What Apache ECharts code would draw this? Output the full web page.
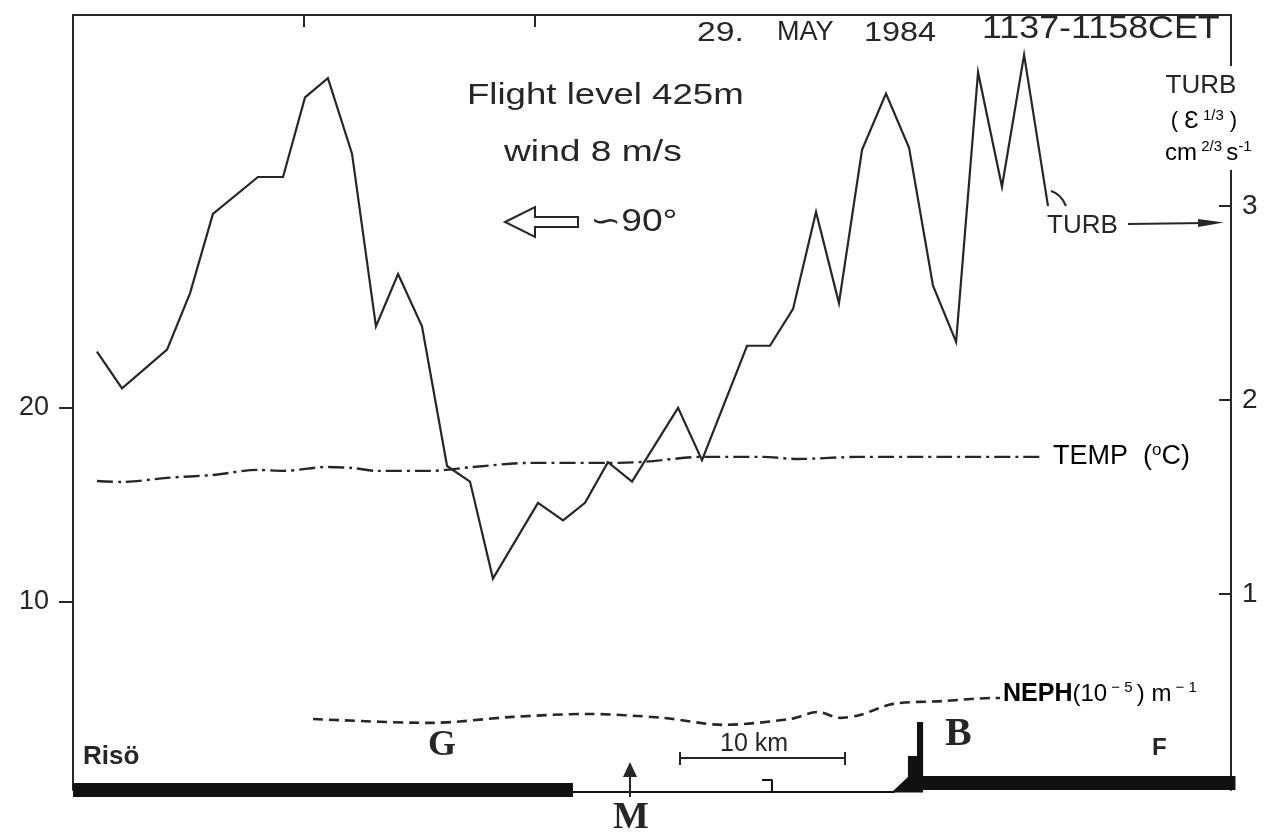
<!DOCTYPE html>
<html><head><meta charset="utf-8">
<script src="https://cdn.jsdelivr.net/npm/echarts@6/dist/echarts.min.js"></script>
<style>html,body{margin:0;padding:0;background:#fff}#c{width:1287px;height:834px}</style>
</head><body><div id="c"></div>
<script>
// ---- data (distance along track in km) ----
const turbKm = [1.45,2.97,5.70,7.09,8.48,11.21,12.73,14.06,15.45,16.91,18.36,19.70,21.15,22.67,24.06,25.45,28.18,29.70,31.03,32.42,33.88,36.67,38.12,40.85,42.24,43.64,45.03,46.42,47.82,49.27,50.67,52.12,53.52,54.85,56.30,57.64,59.09];
const turbValues = [2.25,2.06,2.26,2.55,2.96,3.15,3.15,3.56,3.66,3.27,2.38,2.65,2.38,1.66,1.58,1.08,1.47,1.38,1.47,1.68,1.58,1.96,1.69,2.28,2.28,2.47,2.97,2.50,3.29,3.58,3.30,2.59,2.30,3.69,3.10,3.78,3.00];
const tempKm = [1.45,2.97,5.70,8.48,11.21,12.73,15.45,16.91,18.42,21.64,24.24,27.70,32.55,34.55,38.18,41.82,43.88,47.70,53.15,58.79];
const tempValues = [16.22,16.17,16.38,16.53,16.79,16.74,16.94,16.89,16.74,16.74,16.94,17.15,17.15,17.20,17.46,17.46,17.35,17.46,17.46,17.46];
const nephKm = [14.55,21.64,26.67,31.15,35.76,39.39,43.45,45.15,46.48,47.70,49.70,52.70,55.76,56.18];
const nephValues = [3.98,3.78,4.09,4.24,4.04,3.68,3.98,4.34,4.04,4.19,4.76,4.90,5.06,5.06];
const leftTicks = [10, 20];
const rightTicks = [1, 2, 3];
const topTicksKm = [14, 28];
// ground profile (left-axis units)
const groundLeft = [[0,0.33],[30.3,0.33]];
const groundMid = [[30.3,0.23],[49.8,0.23]];
const groundHook = [[41.76,0.85],[42.36,0.85],[42.36,0.23]];
const groundBuilding = [[49.6,0.2],[50.6,1.0],[50.6,2.08],[51.15,2.08],[51.15,3.83],[51.52,3.83],[51.52,0.2]];
const groundRight = [[51.4,0.69],[70.45,0.69]];

const INK = '#262626';
const SANS = 'Liberation Sans, Arial, sans-serif';
const SERIF = 'Liberation Serif, DejaVu Serif, serif';
const zip = (a, b) => a.map((v, i) => [v, b[i]]);

const chart = echarts.init(document.getElementById('c'), null, {renderer: 'canvas'});

function txt(text, x, y, font, opts, sx) {
  return {type: 'text', z: 110, x: x, y: y, scaleX: sx || 1,
    style: Object.assign({text: text, x: 0, y: 0, font: font, fill: INK, textAlign: 'left', textVerticalAlign: 'middle'}, opts || {})};
}

const option = {
  animation: false,
  backgroundColor: '#fff',
  grid: {left: 73, right: 1287 - 1231, top: 15, bottom: 834 - 790},
  xAxis: {
    type: 'value', position: 'top', min: 0, max: 70.18,
    axisLine: {show: true, onZero: false, lineStyle: {color: INK, width: 2}},
    axisTick: {show: true, inside: true, length: 12, customValues: topTicksKm, lineStyle: {color: INK, width: 2}},
    axisLabel: {show: false}, splitLine: {show: false}
  },
  yAxis: [{
    type: 'value', position: 'left', min: 0.33, max: 40.18,
    axisLine: {show: true, onZero: false, lineStyle: {color: INK, width: 2}},
    axisTick: {show: true, inside: false, length: 14, customValues: leftTicks, lineStyle: {color: INK, width: 2}},
    axisLabel: {show: true, customValues: leftTicks, margin: 24, fontSize: 27, color: INK, fontFamily: SANS},
    splitLine: {show: false}
  }, {
    type: 'value', position: 'right', min: -0.01, max: 3.985,
    axisLine: {show: true, onZero: false, lineStyle: {color: INK, width: 2}},
    axisTick: {show: true, inside: true, length: 12, customValues: rightTicks, lineStyle: {color: INK, width: 2}},
    axisLabel: {show: true, customValues: rightTicks, margin: 11, fontSize: 28, color: INK, fontFamily: SANS},
    splitLine: {show: false}
  }],
  series: [
    {name: 'TURB', type: 'line', yAxisIndex: 1, data: zip(turbKm, turbValues), symbol: 'none',
     lineStyle: {color: INK, width: 2.2, join: 'miter'}, z: 5},
    {name: 'TEMP', type: 'line', yAxisIndex: 0, data: zip(tempKm, tempValues), symbol: 'none', smooth: 0.3,
     lineStyle: {color: INK, width: 2.4, type: [16, 5, 3, 5]}, z: 4},
    {name: 'NEPH', type: 'line', yAxisIndex: 0, data: zip(nephKm, nephValues), symbol: 'none', smooth: 0.3,
     lineStyle: {color: INK, width: 2.6, type: [10, 6]}, z: 4},
    {name: 'groundLeft', type: 'line', yAxisIndex: 0, data: groundLeft, symbol: 'none', clip: false,
     lineStyle: {color: '#111', width: 14, cap: 'butt'}, z: 6},
    {name: 'groundMid', type: 'line', yAxisIndex: 0, data: groundMid, symbol: 'none', clip: false,
     lineStyle: {color: '#111', width: 2}, z: 6},
    {name: 'groundHook', type: 'line', yAxisIndex: 0, data: groundHook, symbol: 'none', clip: false,
     lineStyle: {color: '#111', width: 2}, z: 6},
    {name: 'groundRight', type: 'line', yAxisIndex: 0, data: groundRight, symbol: 'none', clip: false,
     lineStyle: {color: '#111', width: 14, cap: 'butt'}, z: 6},
    {name: 'building', type: 'custom', yAxisIndex: 0, data: [groundBuilding[0]], clip: false, z: 6,
     renderItem: function (params, api) {
       return {type: 'polygon', shape: {points: groundBuilding.map(p => api.coord(p))}, style: {fill: '#111'}};
     }}
  ],
  graphic: [
    // gap in right axis for unit label
    {type: 'rect', z: 100, shape: {x: 1222, y: 66, width: 20, height: 104}, style: {fill: '#fff'}},
    txt('TURB', 1201, 86, '26px ' + SANS, {textAlign: 'center'}),
    {type: 'text', z: 110, style: {x: 1204, y: 121, textAlign: 'center', textVerticalAlign: 'middle',
      text: '{p|( }{e|Ɛ}{s| 1/3}{p| )}',
      rich: {p: {fontSize: 22, fontFamily: SANS, color: INK, lineHeight: 26},
             e: {fontSize: 24, fontFamily: SANS, color: INK, lineHeight: 26},
             s: {fontSize: 15, fontFamily: SANS, color: INK, verticalAlign: 'top', lineHeight: 16}}}},
    {type: 'text', z: 110, style: {x: 1165, y: 153, textAlign: 'left', textVerticalAlign: 'middle',
      text: '{p|cm}{s| 2/3 }{p|s}{s|-1}',
      rich: {p: {fontSize: 24, fontFamily: SANS, color: INK, lineHeight: 28},
             s: {fontSize: 15, fontFamily: SANS, color: INK, verticalAlign: 'top', lineHeight: 16}}}},
    // title stamp
    txt('29.', 697, 34, '27px ' + SANS, null, 1.25),
    txt('MAY', 777, 33, '27px ' + SANS),
    txt('1984', 864, 34, '27px ' + SANS, null, 1.2),
    txt('1137-1158CET', 982, 29, '32px ' + SANS, null, 1.12),
    // flight info
    txt('Flight level 425m', 467, 96, '30px ' + SANS, null, 1.22),
    txt('wind 8 m/s', 504, 153, '30px ' + SANS, null, 1.24),
    {type: 'polygon', z: 110, shape: {points: [[505,222],[535,207],[535,217],[578,217],[578,227],[535,227],[535,237]]},
     style: {fill: '#fff', stroke: INK, lineWidth: 2}},
    txt('∽90°', 590, 222, '31px ' + SANS, null, 1.2),
    // turb label and arrow
    {type: 'bezierCurve', z: 110, shape: {x1: 1051, y1: 191, x2: 1066, y2: 206, cpx1: 1061, cpy1: 194}, style: {stroke: INK, lineWidth: 2, fill: null}},
    txt('TURB', 1047, 226, '26px ' + SANS),
    {type: 'line', z: 110, shape: {x1: 1128, y1: 224, x2: 1205, y2: 223}, style: {stroke: INK, lineWidth: 2}},
    {type: 'polygon', z: 110, shape: {points: [[1198,219],[1224,222.5],[1198,227]]}, style: {fill: INK}},
    // series labels
    {type: 'text', z: 110, style: {x: 1053, y: 457, textAlign: 'left', textVerticalAlign: 'middle',
      text: '{a|TEMP  (}{o|o}{a|C)}',
      rich: {a: {fontSize: 27, fontFamily: SANS, color: INK, lineHeight: 30},
             o: {fontSize: 17, fontFamily: SANS, color: INK, verticalAlign: 'top', lineHeight: 18}}}},
    {type: 'text', z: 110, style: {x: 1003, y: 694, textAlign: 'left', textVerticalAlign: 'middle',
      text: '{b|NEPH}{a|(10}{s| − 5 }{a|) m}{s| − 1}',
      rich: {b: {fontSize: 25, fontWeight: 'bold', fontFamily: SANS, color: INK, lineHeight: 28},
             a: {fontSize: 24, fontFamily: SANS, color: '#3a3a3a', lineHeight: 28},
             s: {fontSize: 15, fontFamily: SANS, color: '#3a3a3a', verticalAlign: 'top', lineHeight: 16}}}},
    // place labels
    txt('Risö', 83, 757, 'bold 26px ' + SANS),
    txt('G', 428, 746, 'bold 36px ' + SERIF),
    txt('B', 945, 735, 'bold 40px ' + SERIF),
    txt('F', 1152, 748, 'bold 24px ' + SANS),
    txt('M', 613, 818, 'bold 38px ' + SERIF),
    {type: 'polygon', z: 110, shape: {points: [[630,762],[623,777],[637,777]]}, style: {fill: INK}},
    {type: 'line', z: 110, shape: {x1: 630, y1: 776, x2: 630, y2: 797}, style: {stroke: INK, lineWidth: 2}},
    // scale bar
    txt('10 km', 720, 744, '25px ' + SANS),
    {type: 'line', z: 110, shape: {x1: 680, y1: 758, x2: 845, y2: 758}, style: {stroke: INK, lineWidth: 2}},
    {type: 'line', z: 110, shape: {x1: 680, y1: 752, x2: 680, y2: 765}, style: {stroke: INK, lineWidth: 2}},
    {type: 'line', z: 110, shape: {x1: 845, y1: 752, x2: 845, y2: 765}, style: {stroke: INK, lineWidth: 2}}
  ]
};
chart.setOption(option);
</script></body></html>
